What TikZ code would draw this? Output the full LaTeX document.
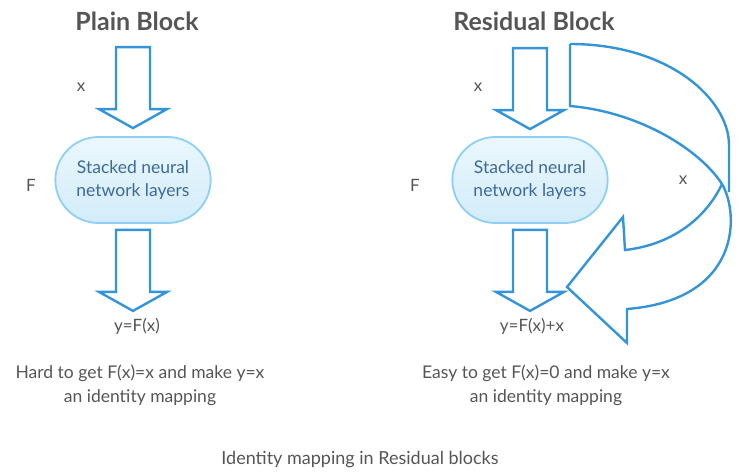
\documentclass[tikz,border=0pt]{standalone}
\usepackage{fontspec}
\setmainfont{Lato}
\usetikzlibrary{shapes.misc}
\definecolor{arrowblue}{HTML}{3494DA}
\definecolor{boxline}{HTML}{8DCFF7}
\definecolor{boxtop}{HTML}{EAF7FD}
\definecolor{boxbottom}{HTML}{D3ECFA}
\definecolor{boxtext}{HTML}{3D6A98}
\definecolor{labelgray}{HTML}{555555}
\tikzset{
  arrowline/.style={draw=arrowblue, line width=2.4pt, line join=miter},
  layerbox/.style={rounded rectangle, draw=boxline, line width=1.8pt,
    top color=boxtop, bottom color=boxbottom, minimum width=162pt,
    minimum height=86pt, align=center, text=boxtext,
    font=\fontsize{17.5}{23}\selectfont},
  title/.style={text=labelgray, font=\fontsize{25}{29}\selectfont\bfseries},
  label/.style={text=labelgray, font=\fontsize{17}{20}\selectfont},
  note/.style={text=labelgray, align=center, font=\fontsize{17.5}{24}\selectfont},
  downarr/.pic={\draw[arrowline] (-17,0) -- (17,0) -- (17,62) -- (34,62)
    -- (0,81) -- (-34,62) -- (-17,62) -- cycle;}
}
\begin{document}
\begin{tikzpicture}[x=1pt, y=-1pt]
  \useasboundingbox (0,0) rectangle (742,474);
  % plain block
  \node[title] (plaintitle) at (137,21) {Plain Block};
  \node[layerbox] (plainbox) at (133,180) {Stacked neural\\network layers};
  \pic at ([yshift=89pt]plainbox.north) {downarr};
  \pic at ([yshift=-6pt]plainbox.south) {downarr};
  \node[label] (plainx) at (81,87) {x};
  \node[label] (plainf) at (31,185) {F};
  \node[label] (plainy) at (137,326) {y=F(x)};
  \node[note] (plainnote) at (140,385) {Hard to get F(x)=x and make y=x\\an identity mapping};
  % residual block
  \node[title] (restitle) at (534,21) {Residual Block};
  \node[layerbox] (resbox) at (530,180) {Stacked neural\\network layers};
  \pic at ([yshift=88pt]resbox.north) {downarr};
  \pic at ([yshift=-6pt]resbox.south) {downarr};
  \node[label] (resx) at (478,87) {x};
  \node[label] (resf) at (415,185) {F};
  \node[label] (skipx) at (683,180) {x};
  \node[label] (resy) at (532,326) {y=F(x)+x};
  \node[note] (resnote) at (546,385) {Easy to get F(x)=0 and make y=x\\an identity mapping};
  % skip connection
  \draw[arrowline] (570,44) -- (570,106)
    .. controls (640,112) and (700,150) .. (722,184)
    .. controls (740,215) and (740,300) .. (627,309)
    -- (627,343) -- (567,287) -- (623,217) -- (625,250)
    .. controls (670,245) and (705,220) .. (722,184);
  \draw[arrowline] (570,44) .. controls (670,44) and (729,100) .. (729,145) -- (729,192);
  \node[label, font=\fontsize{18}{21}\selectfont] (caption) at (360,460) {Identity mapping in Residual blocks};
\end{tikzpicture}
\end{document}
